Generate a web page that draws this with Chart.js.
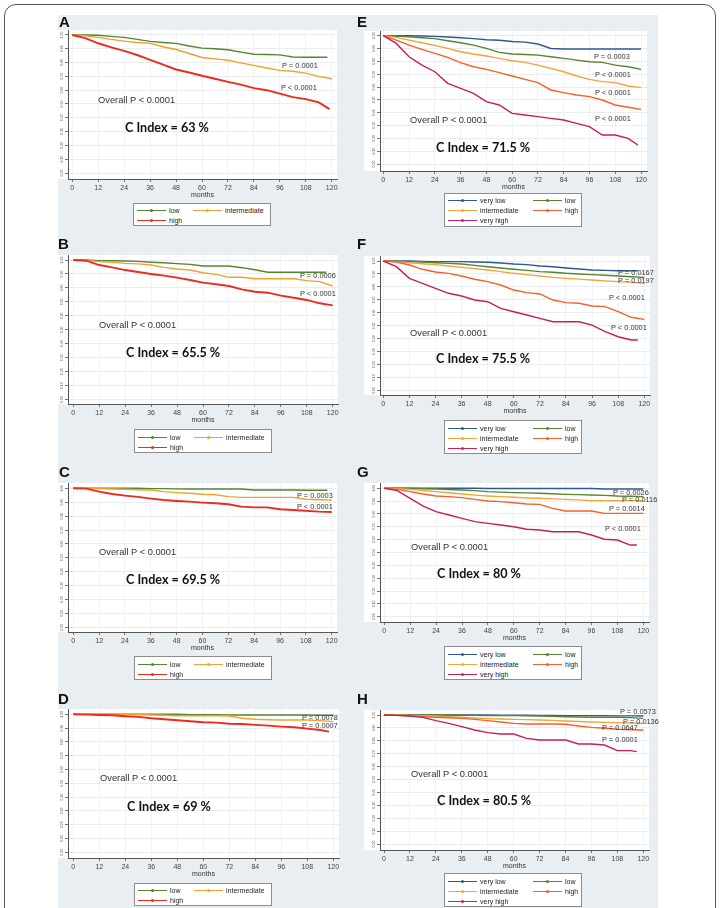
<!DOCTYPE html>
<html>
<head>
<meta charset="utf-8">
<script src="https://cdn.jsdelivr.net/npm/chart.js@4.4.1/dist/chart.umd.min.js"></script>
<style>
  body { margin: 0; width: 720px; height: 908px; overflow: hidden; position: relative; background: #fff;
         font-family: 'Liberation Sans', Arial, sans-serif; }
  #frame { position: absolute; left: 4px; top: 4px; width: 710px; height: 940px; border: 1.5px solid #555; border-radius: 12px; }
  #bg { position: absolute; left: 58px; top: 15px; width: 600px; height: 893px; background: #e8eef2; }
  canvas { position: absolute; }
  .tag { position: absolute; font: bold 15px 'Liberation Sans', Arial, sans-serif; color: #111; line-height: 1; }
  .txt { position: absolute; line-height: 1; white-space: nowrap; transform: translateY(-50%); }
  .pv { font-size: 7.4px; color: #333; }
  .ov { font-size: 9.3px; color: #333; }
  .ci { font: bold 12.6px Lato, 'Liberation Sans', sans-serif; color: #111; }
  .leg { position: absolute; background: #fff; border: 1px solid #8c8c8c; box-sizing: border-box; width: 138px; }
  .li { position: absolute; font-size: 7px; color: #222; white-space: nowrap; line-height: 1;
        height: 8px; display: flex; align-items: center; }
  .sw { display: inline-block; width: 29px; height: 1px; margin-right: 3px; position: relative; }
  .sw i { position: absolute; left: 13px; top: -1px; width: 3px; height: 3px; border-radius: 50%; }
</style>
</head>
<body>
<div id="frame"></div>
<div id="bg"></div>
<script>
// ─── Donnees (survie estimee tous les 6 mois, derniere valeur = fin de courbe) ───
const MONTHS = [0, 6, 12, 18, 24, 30, 36, 42, 48, 54, 60, 66, 72, 78, 84, 90, 96, 102, 108, 114, 120];
const X_TICKS = [0, 12, 24, 36, 48, 60, 72, 84, 96, 108, 120];
const Y_TICKS = [0, 0.1, 0.2, 0.3, 0.4, 0.5, 0.6, 0.7, 0.8, 0.9, 1];

const A_LOW  = [1.000,1.000,0.998,0.990,0.983,0.968,0.954,0.946,0.939,0.920,0.905,0.900,0.893,0.876,0.861,0.859,0.856,0.841,0.839,0.839,0.839];
const A_INT  = [1.000,0.995,0.983,0.968,0.956,0.946,0.939,0.915,0.895,0.866,0.837,0.827,0.817,0.798,0.780,0.761,0.744,0.737,0.724,0.700,0.683];
const A_HIGH = [1.000,0.978,0.940,0.910,0.885,0.855,0.820,0.785,0.750,0.728,0.705,0.683,0.660,0.640,0.615,0.600,0.575,0.550,0.535,0.512,0.463];
const A_END  = [118, 120, 119];

const B_LOW  = [1.000,1.000,0.995,0.995,0.993,0.990,0.984,0.980,0.974,0.969,0.957,0.957,0.957,0.945,0.930,0.912,0.912,0.912,0.912,0.912,0.912];
const B_INT  = [1.000,0.998,0.988,0.983,0.976,0.972,0.964,0.947,0.936,0.928,0.909,0.897,0.876,0.876,0.866,0.866,0.866,0.866,0.852,0.845,0.814];
const B_HIGH = [1.000,0.995,0.964,0.947,0.928,0.914,0.900,0.888,0.874,0.857,0.838,0.826,0.814,0.790,0.773,0.766,0.745,0.730,0.714,0.690,0.675];
const B_END  = [117, 120, 120];

const C_LOW  = [1.000,1.000,1.000,1.000,1.000,1.000,0.998,0.998,0.996,0.995,0.995,0.995,0.995,0.995,0.988,0.988,0.988,0.988,0.986,0.986,0.986];
const C_INT  = [1.000,1.000,0.998,0.995,0.993,0.990,0.988,0.976,0.969,0.964,0.957,0.954,0.940,0.935,0.935,0.935,0.935,0.935,0.921,0.918,0.916];
const C_HIGH = [1.000,0.998,0.976,0.959,0.947,0.938,0.926,0.916,0.909,0.904,0.897,0.892,0.885,0.868,0.863,0.863,0.849,0.844,0.839,0.832,0.830];
const C_END  = [118, 120, 120];

const D_LOW  = [1.000,1.000,1.000,1.000,1.000,1.000,1.000,1.000,1.000,0.998,0.998,0.998,0.995,0.995,0.995,0.995,0.995,0.995,0.995,0.993,0.993];
const D_INT  = [1.000,1.000,1.000,1.000,0.998,0.998,0.995,0.993,0.990,0.990,0.990,0.990,0.988,0.971,0.964,0.961,0.959,0.959,0.959,0.954,0.947];
const D_HIGH = [1.000,0.998,0.995,0.993,0.986,0.981,0.971,0.964,0.957,0.950,0.942,0.940,0.932,0.930,0.923,0.918,0.911,0.906,0.896,0.886,0.874];
const D_END  = [120, 120, 118];

const E_VLOW  = [1.000,1.000,1.000,0.998,0.995,0.990,0.984,0.977,0.969,0.964,0.955,0.950,0.935,0.900,0.896,0.896,0.896,0.896,0.896,0.896,0.896];
const E_LOW   = [1.000,0.997,0.992,0.984,0.977,0.961,0.945,0.927,0.901,0.870,0.857,0.853,0.849,0.836,0.823,0.810,0.797,0.792,0.771,0.758,0.738];
const E_INT   = [1.000,0.987,0.966,0.945,0.925,0.901,0.875,0.857,0.842,0.823,0.805,0.792,0.771,0.745,0.719,0.686,0.660,0.642,0.634,0.608,0.595];
const E_HIGH  = [1.000,0.966,0.927,0.894,0.862,0.831,0.790,0.758,0.738,0.712,0.686,0.660,0.634,0.577,0.556,0.538,0.525,0.499,0.460,0.442,0.426];
const E_VHIGH = [1.000,0.940,0.836,0.771,0.719,0.629,0.590,0.551,0.486,0.460,0.395,0.382,0.369,0.356,0.343,0.317,0.291,0.226,0.226,0.200,0.148];
const E_END   = [120, 120, 120, 120, 118.5];

const F_VLOW  = [1.000,1.000,1.000,0.997,0.995,0.995,0.995,0.992,0.990,0.985,0.977,0.972,0.961,0.956,0.946,0.938,0.931,0.928,0.925,0.925,0.925];
const F_LOW   = [1.000,0.997,0.995,0.992,0.987,0.982,0.977,0.966,0.956,0.946,0.936,0.928,0.918,0.913,0.905,0.900,0.895,0.890,0.884,0.879,0.874];
const F_INT   = [1.000,0.995,0.987,0.979,0.972,0.962,0.951,0.941,0.931,0.918,0.905,0.895,0.884,0.874,0.866,0.860,0.853,0.847,0.841,0.835,0.828];
const F_HIGH  = [1.000,0.992,0.969,0.936,0.915,0.905,0.884,0.859,0.841,0.815,0.776,0.756,0.746,0.699,0.679,0.674,0.653,0.648,0.609,0.566,0.550];
const F_VHIGH = [1.000,0.956,0.866,0.828,0.789,0.751,0.730,0.699,0.686,0.635,0.609,0.584,0.558,0.532,0.532,0.532,0.506,0.455,0.416,0.391,0.391];
const F_END   = [117, 120, 120, 120, 117];

const G_VLOW  = [1.000,1.000,1.000,1.000,1.000,1.000,1.000,1.000,0.998,0.998,0.998,0.998,0.998,0.998,0.998,0.998,0.998,0.995,0.995,0.995,0.995];
const G_LOW   = [1.000,1.000,1.000,0.997,0.995,0.991,0.987,0.982,0.974,0.970,0.966,0.964,0.961,0.957,0.953,0.951,0.948,0.945,0.940,0.938,0.935];
const G_INT   = [1.000,0.997,0.992,0.983,0.974,0.965,0.956,0.947,0.940,0.935,0.930,0.925,0.922,0.918,0.914,0.910,0.904,0.904,0.904,0.904,0.904];
const G_HIGH  = [1.000,0.992,0.974,0.956,0.940,0.935,0.927,0.914,0.901,0.896,0.888,0.878,0.875,0.844,0.823,0.823,0.823,0.805,0.805,0.805,0.805];
const G_VHIGH = [1.000,0.982,0.922,0.862,0.818,0.792,0.766,0.740,0.727,0.714,0.701,0.681,0.675,0.662,0.662,0.662,0.636,0.603,0.597,0.558,0.558];
const G_END   = [120, 120, 120, 120, 117];

const H_VLOW  = [1.000,1.000,1.000,1.000,1.000,1.000,1.000,1.000,1.000,0.998,0.998,0.998,0.997,0.997,0.995,0.995,0.995,0.995,0.993,0.993,0.992];
const H_LOW   = [1.000,1.000,1.000,1.000,1.000,0.998,0.998,0.997,0.995,0.995,0.995,0.994,0.992,0.990,0.987,0.985,0.982,0.982,0.982,0.980,0.974];
const H_INT   = [1.000,1.000,0.997,0.995,0.992,0.987,0.982,0.977,0.972,0.969,0.966,0.964,0.961,0.958,0.953,0.950,0.946,0.943,0.941,0.938,0.935];
const H_HIGH  = [1.000,0.997,0.992,0.987,0.982,0.979,0.974,0.966,0.956,0.946,0.935,0.930,0.930,0.930,0.928,0.915,0.904,0.897,0.889,0.886,0.884];
const H_VHIGH = [1.000,0.997,0.992,0.982,0.956,0.935,0.910,0.884,0.863,0.853,0.853,0.819,0.806,0.806,0.806,0.775,0.775,0.767,0.724,0.724,0.716];
const H_END   = [120, 120, 120, 120, 117];

const GROUPS3 = ['low', 'intermediate', 'high'];
const GROUPS5 = ['very low', 'low', 'intermediate', 'high', 'very high'];

const A_PV = ['P = 0.0001', 'P < 0.0001'];
const B_PV = ['P = 0.0006', 'P < 0.0001'];
const C_PV = ['P = 0.0003', 'P < 0.0001'];
const D_PV = ['P = 0.0078', 'P = 0.0007'];
const E_PV = ['P = 0.0003', 'P < 0.0001', 'P < 0.0001', 'P < 0.0001'];
const F_PV = ['P = 0.0167', 'P = 0.0197', 'P < 0.0001', 'P < 0.0001'];
const G_PV = ['P = 0.0026', 'P = 0.0116', 'P = 0.0014', 'P < 0.0001'];
const H_PV = ['P = 0.0573', 'P = 0.0136', 'P = 0.0647', 'P = 0.0001'];
const C_INDEX = ['63', '65.5', '69.5', '69', '71.5', '75.5', '80', '80.5'];
const OVERALL = 'Overall P < 0.0001';

// ─── Couleurs ───
const COL3 = { 'low': '#55852f', 'intermediate': '#f2a12e', 'high': '#ee2a1e' };
const COL5 = { 'very low': '#2c5a94', 'low': '#55852f', 'intermediate': '#f4a33c', 'high': '#f5602a', 'very high': '#c81e5a' };

// ─── Mise en page (pixels de la page) ───
const PANELS = [
  { tag: 'A', tagPos: [59, 13.5], groups: GROUPS3, data: [A_LOW, A_INT, A_HIGH], ends: A_END, pv: A_PV,
    geo: { axisX: 68, axisY: 179.3, x0: 72.3, x120: 331.7, y1: 35, y0: 173 },
    pvPos: [[282, 65.7], [281, 88.3]], ovPos: [98, 100.7], ciPos: [125, 126.7], leg: [133, 202.7] },
  { tag: 'B', tagPos: [58, 235.5], groups: GROUPS3, data: [B_LOW, B_INT, B_HIGH], ends: B_END, pv: B_PV,
    geo: { axisX: 68, axisY: 404, x0: 73.3, x120: 332.7, y1: 260, y0: 399.7 },
    pvPos: [[300, 276], [300, 294]], ovPos: [99, 326], ciPos: [126, 352.3], leg: [134, 429.3] },
  { tag: 'C', tagPos: [59, 464], groups: GROUPS3, data: [C_LOW, C_INT, C_HIGH], ends: C_END, pv: C_PV,
    geo: { axisX: 68, axisY: 632.3, x0: 73.3, x120: 331.7, y1: 488.3, y0: 627.3 },
    pvPos: [[297, 495.7], [297, 506.7]], ovPos: [99, 553.3], ciPos: [126, 579.3], leg: [134, 656] },
  { tag: 'D', tagPos: [58, 690.5], groups: GROUPS3, data: [D_LOW, D_INT, D_HIGH], ends: D_END, pv: D_PV,
    geo: { axisX: 68, axisY: 858.3, x0: 73.3, x120: 333.3, y1: 714.3, y0: 852.3 },
    pvPos: [[302, 718], [302, 725.7]], ovPos: [100, 779], ciPos: [127, 805.7], leg: [134, 882.7] },
  { tag: 'E', tagPos: [357, 13.5], groups: GROUPS5, data: [E_VLOW, E_LOW, E_INT, E_HIGH, E_VHIGH], ends: E_END, pv: E_PV,
    geo: { axisX: 380, axisY: 170.7, x0: 383.3, x120: 641, y1: 35.7, y0: 164 },
    pvPos: [[594, 56.7], [595, 75], [595, 92.7], [595, 119]], ovPos: [410, 120.7], ciPos: [436, 146.7], leg: [444, 192.7] },
  { tag: 'F', tagPos: [357, 235.5], groups: GROUPS5, data: [F_VLOW, F_LOW, F_INT, F_HIGH, F_VHIGH], ends: F_END, pv: F_PV,
    geo: { axisX: 380, axisY: 395, x0: 383.3, x120: 644.3, y1: 261, y0: 390.7 },
    pvPos: [[618, 273.3], [618, 281.3], [609, 298.3], [611, 328.3]], ovPos: [410, 334.3], ciPos: [436, 358.3], leg: [444, 420] },
  { tag: 'G', tagPos: [357, 464], groups: GROUPS5, data: [G_VLOW, G_LOW, G_INT, G_HIGH, G_VHIGH], ends: G_END, pv: G_PV,
    geo: { axisX: 380, axisY: 622.3, x0: 384.3, x120: 643.3, y1: 488.3, y0: 616.7 },
    pvPos: [[613, 493.3], [622, 500], [609, 509], [605, 529]], ovPos: [411, 548.3], ciPos: [437, 572.7], leg: [444, 646] },
  { tag: 'H', tagPos: [357, 690.5], groups: GROUPS5, data: [H_VLOW, H_LOW, H_INT, H_HIGH, H_VHIGH], ends: H_END, pv: H_PV,
    geo: { axisX: 380, axisY: 850, x0: 384, x120: 643.3, y1: 715, y0: 844 },
    pvPos: [[620, 712], [623, 721.7], [602, 727.7], [602, 740]], ovPos: [411, 775], ciPos: [437, 800], leg: [444, 873.3] },
];

// Fond blanc de la zone de trace (style Stata)
const plotBg = {
  id: 'plotBg',
  beforeDraw(chart) {
    const { ctx, chartArea: a } = chart;
    ctx.save();
    ctx.fillStyle = '#ffffff';
    ctx.fillRect(0, a.top, a.right, a.bottom - a.top);
    ctx.restore();
  },
};

function addText(cls, text, x, y) {
  const el = document.createElement('div');
  el.className = 'txt ' + cls;
  el.textContent = text;
  el.style.left = x + 'px';
  el.style.top = y + 'px';
  document.body.appendChild(el);
}

function curvePoints(values, end) {
  const pts = [];
  for (let i = 0; i < values.length - 1; i++) {
    if (MONTHS[i] < end) pts.push({ x: MONTHS[i], y: values[i] });
  }
  pts.push({ x: end, y: values[values.length - 1] });
  return pts;
}

function buildPanel(p, idx) {
  const g = p.geo;
  const left = Math.round(g.axisX), top = Math.round(g.y1 - 5), bottom = Math.round(g.axisY);
  const right = Math.round(g.x120 + 5.5);
  const cl = left - 16, ct = top - 4;
  const cw = right + 6 - cl, ch = bottom + 20 - ct;

  const kx = (g.x120 - g.x0) / 120;
  const ky = g.y0 - g.y1;
  const xmin = -(g.x0 - left) / kx, xmax = 120 + (right - g.x120) / kx;
  const ymax = 1 + (g.y1 - top) / ky, ymin = -(bottom - g.y0) / ky;

  const canvas = document.createElement('canvas');
  canvas.width = cw; canvas.height = ch;
  canvas.style.left = cl + 'px'; canvas.style.top = ct + 'px';
  canvas.style.width = cw + 'px'; canvas.style.height = ch + 'px';
  document.body.appendChild(canvas);

  const cols = p.groups.length === 3 ? COL3 : COL5;
  const datasets = p.groups.map((name, i) => ({
    label: name,
    data: curvePoints(p.data[i], p.ends[i]),
    borderColor: cols[name],
    borderWidth: (name === 'high' && p.groups.length === 3) ? 1.9 : 1.4,
    pointRadius: 0,
    tension: 0,
    fill: false,
  })).reverse();

  new Chart(canvas, {
    type: 'line',
    data: { datasets },
    options: {
      responsive: false,
      animation: false,
      events: [],
      devicePixelRatio: 1,
      layout: { padding: { top: 4, right: 6, left: 0, bottom: 0 } },
      plugins: { legend: { display: false }, tooltip: { enabled: false } },
      scales: {
        x: {
          type: 'linear', min: xmin, max: xmax,
          afterBuildTicks: s => { s.ticks = X_TICKS.map(v => ({ value: v })); },
          afterFit: s => { s.height = 20; },
          ticks: { autoSkip: false, maxRotation: 0, color: '#444', padding: 1.5,
                   font: { family: "'Liberation Sans', Arial", size: 7 }, callback: v => String(v) },
          grid: { color: '#eceff2', tickColor: '#555', tickLength: 3, lineWidth: 0.8 },
          border: { display: true, color: '#555', width: 1 },
          title: { display: true, text: 'months', color: '#333', padding: 0,
                   font: { family: "'Liberation Sans', Arial", size: 7 } },
        },
        y: {
          type: 'linear', min: ymin, max: ymax,
          afterBuildTicks: s => { s.ticks = Y_TICKS.map(v => ({ value: v })); },
          afterFit: s => { s.width = 16; },
          ticks: { autoSkip: false, minRotation: 90, maxRotation: 90, crossAlign: 'center', padding: 0,
                   color: '#555', font: { family: "'Liberation Sans', Arial", size: 3.5 },
                   callback: v => v.toFixed(2) },
          grid: { color: '#e3e8ec', tickColor: '#555', tickLength: 3, lineWidth: 0.8 },
          border: { display: true, color: '#555', width: 1 },
        },
      },
    },
    plugins: [plotBg],
  });

  // Lettre du panneau
  const tag = document.createElement('div');
  tag.className = 'tag';
  tag.textContent = p.tag;
  tag.style.left = p.tagPos[0] + 'px';
  tag.style.top = p.tagPos[1] + 'px';
  document.body.appendChild(tag);

  // Annotations
  p.pv.forEach((t, i) => addText('pv', t, p.pvPos[i][0], p.pvPos[i][1]));
  addText('ov', OVERALL, p.ovPos[0], p.ovPos[1]);
  addText('ci', 'C Index = ' + C_INDEX[idx] + ' %', p.ciPos[0], p.ciPos[1]);

  // Legende
  const rows = p.groups.length === 3 ? 2 : 3;
  const leg = document.createElement('div');
  leg.className = 'leg';
  leg.style.left = p.leg[0] + 'px';
  leg.style.top = p.leg[1] + 'px';
  leg.style.height = (rows === 2 ? 23.5 : 34) + 'px';
  const col2 = rows === 2 ? 59 : 88;
  p.groups.forEach((name, i) => {
    const item = document.createElement('div');
    item.className = 'li';
    item.style.left = (i % 2 ? col2 : 3) + 'px';
    item.style.top = (3 + Math.floor(i / 2) * 10) + 'px';
    const sw = document.createElement('span');
    sw.className = 'sw';
    sw.style.background = cols[name];
    const dot = document.createElement('i');
    dot.style.background = cols[name];
    sw.appendChild(dot);
    item.appendChild(sw);
    item.appendChild(document.createTextNode(name));
    leg.appendChild(item);
  });
  document.body.appendChild(leg);
}

PANELS.forEach(buildPanel);
</script>
</body>
</html>
